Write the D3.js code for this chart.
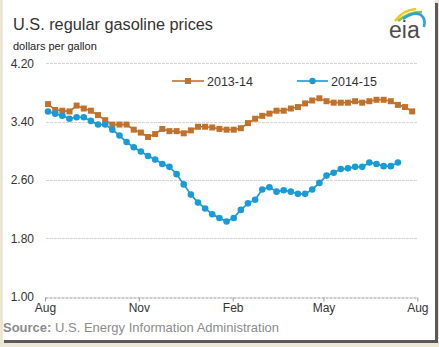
<!DOCTYPE html>
<html>
<head>
<meta charset="utf-8">
<script src="https://cdn.jsdelivr.net/npm/d3@7"></script>
<style>
  body { margin: 0; padding: 0; background: #efe7d6; }
  svg { display: block; }
  text { font-family: "Liberation Sans", Arial, sans-serif; }
</style>
</head>
<body>
<svg id="chart" width="439" height="347"></svg>
<script>
// ---- data ----
const weekStart = "2014-08-04";           // first week plotted (Monday)
const seriesNames = ["2013-14", "2014-15"];
const series1314 = [3.64,3.56,3.55,3.54,3.62,3.58,3.55,3.49,3.42,3.36,
                    3.36,3.36,3.29,3.25,3.19,3.23,3.30,3.27,3.27,3.24,
                    3.28,3.33,3.33,3.32,3.30,3.29,3.29,3.31,3.38,3.44,
                    3.48,3.51,3.55,3.55,3.58,3.60,3.65,3.69,3.72,3.68,
                    3.66,3.66,3.66,3.68,3.66,3.68,3.70,3.70,3.68,3.63,
                    3.60,3.54];
const series1415 = [3.54,3.51,3.48,3.44,3.46,3.46,3.41,3.36,3.36,3.29,
                    3.21,3.12,3.05,2.99,2.93,2.88,2.82,2.78,2.68,2.54,
                    2.40,2.29,2.21,2.13,2.08,2.03,2.08,2.19,2.28,2.33,
                    2.47,2.50,2.44,2.46,2.44,2.41,2.41,2.47,2.56,2.66,
                    2.70,2.75,2.76,2.78,2.78,2.84,2.82,2.79,2.79,2.84];
const yTicks = [1.00, 1.80, 2.60, 3.40, 4.20];
const xTickDates = ["2014-08-01","2014-11-01","2015-02-01","2015-05-01","2015-08-01"];
const xTickLabels = ["Aug","Nov","Feb","May","Aug"];
const colors = ["#c0722c", "#1a9ad6"];

// ---- setup ----
const parse = d3.utcParse("%Y-%m-%d");
const start = parse(weekStart);
const weekDate = i => d3.utcDay.offset(start, 7 * i);

const svg = d3.select("#chart");
const W = 439, H = 347;

// frame
svg.append("rect").attr("width", W).attr("height", H).attr("fill", "#efe7d6");
svg.append("rect").attr("x", 4).attr("y", 3).attr("width", 434).attr("height", 340).attr("fill", "#5a5a5a");
svg.append("rect").attr("x", 2).attr("y", 0).attr("width", 433).attr("height", 340).attr("fill", "#ffffff");
svg.append("line").attr("x1", 2).attr("x2", 2).attr("y1", 0).attr("y2", 340).attr("stroke", "#e2d8c4").attr("stroke-width", 1);

// scales
const x = d3.scaleUtc()
  .domain([parse(xTickDates[0]), parse(xTickDates[xTickDates.length - 1])])
  .range([45, 417.3]);
const y = d3.scaleLinear().domain([1.0, 4.2]).range([296.7, 63.3]);

// gridlines
svg.append("g").selectAll("line").data(yTicks.filter(v => v > 1.0)).join("line")
  .attr("x1", 46).attr("x2", 418)
  .attr("y1", d => Math.round(y(d)) + 0.5).attr("y2", d => Math.round(y(d)) + 0.5)
  .attr("stroke", "#d9d2d2").attr("stroke-width", 1).attr("stroke-dasharray", "3,1");

// y axis labels
const yAxis = d3.axisLeft(y).tickValues(yTicks).tickFormat(d3.format(".2f")).tickSize(0).tickPadding(0);
const gy = svg.append("g").attr("transform", "translate(34,0)").call(yAxis);
gy.select(".domain").remove();
gy.selectAll("text").attr("font-size", 12).attr("fill", "#333").attr("font-family", "Liberation Sans, Arial, sans-serif");

// x axis
const xAxis = d3.axisBottom(x)
  .tickValues(xTickDates.map(parse))
  .tickFormat((d, i) => xTickLabels[i])
  .tickSize(4).tickPadding(2).tickSizeOuter(0);
const gx = svg.append("g").attr("transform", `translate(0,${Math.round(y(1.0)) + 0.5})`).call(xAxis);
gx.select(".domain").attr("stroke", "#9a9a9a").attr("stroke-dasharray", "3,1");
gx.selectAll(".tick line").attr("stroke", "#9a9a9a");
gx.selectAll("text").attr("font-size", 12).attr("fill", "#333").attr("font-family", "Liberation Sans, Arial, sans-serif");

// lines
const line = d3.line().x((d, i) => x(weekDate(i))).y(d => y(d));
const allSeries = [series1314, series1415];
allSeries.forEach((s, k) => {
  svg.append("path").datum(s).attr("d", line)
    .attr("fill", "none").attr("stroke", colors[k]).attr("stroke-width", 1.7);
});
// markers
svg.append("g").selectAll("rect").data(series1314).join("rect")
  .attr("x", (d, i) => x(weekDate(i)) - 3).attr("y", d => y(d) - 3)
  .attr("width", 6).attr("height", 6).attr("fill", colors[0]);
svg.append("g").selectAll("circle").data(series1415).join("circle")
  .attr("cx", (d, i) => x(weekDate(i))).attr("cy", d => y(d))
  .attr("r", 3.3).attr("fill", colors[1]);

// legend
const legend = svg.append("g");
const legItems = [{x0: 172, x1: 204, tx: 207}, {x0: 297, x1: 328, tx: 331}];
legItems.forEach((p, k) => {
  const g = legend.append("g");
  g.append("line").attr("x1", p.x0).attr("x2", p.x1).attr("y1", 81).attr("y2", 81)
    .attr("stroke", colors[k]).attr("stroke-width", 1.6);
  const cx = (p.x0 + p.x1) / 2;
  if (k === 0) g.append("rect").attr("x", cx - 3).attr("y", 78).attr("width", 6).attr("height", 6).attr("fill", colors[k]);
  else g.append("circle").attr("cx", cx).attr("cy", 81).attr("r", 3.2).attr("fill", colors[k]);
  g.append("text").attr("x", p.tx).attr("y", 85.5).attr("font-size", 12.5).attr("fill", "#333").text(seriesNames[k]);
});

// titles
svg.append("text").attr("x", 13).attr("y", 29.5).attr("font-size", 16.3).attr("fill", "#333")
  .text("U.S. regular gasoline prices");
svg.append("text").attr("x", 13).attr("y", 49.5).attr("font-size", 11).attr("fill", "#222")
  .text("dollars per gallon");

// source
const src = svg.append("text").attr("x", 3).attr("y", 331.5).attr("font-size", 13).attr("fill", "#8c8c8c");
src.append("tspan").attr("font-weight", "bold").text("Source:");
src.append("tspan").text(" U.S. Energy Information Administration");

// eia logo
const logo = svg.append("g");
logo.append("path").attr("d", "M395,21 Q403,10 416,9").attr("fill", "none").attr("stroke", "#f2c81f").attr("stroke-width", 2.6);
logo.append("path").attr("d", "M398,21 Q408,12 422,12").attr("fill", "none").attr("stroke", "#8cc43c").attr("stroke-width", 2.6);
logo.append("path").attr("d", "M403,19 Q414,11 421,15 Q426,19 424,27").attr("fill", "none").attr("stroke", "#2ba3db").attr("stroke-width", 2.6);
logo.append("text").attr("x", 389).attr("y", 38).attr("font-size", 23)
  .attr("font-family", "Liberation Serif, DejaVu Serif, serif").attr("fill", "#4d4d4d").text("eia");
</script>
</body>
</html>
